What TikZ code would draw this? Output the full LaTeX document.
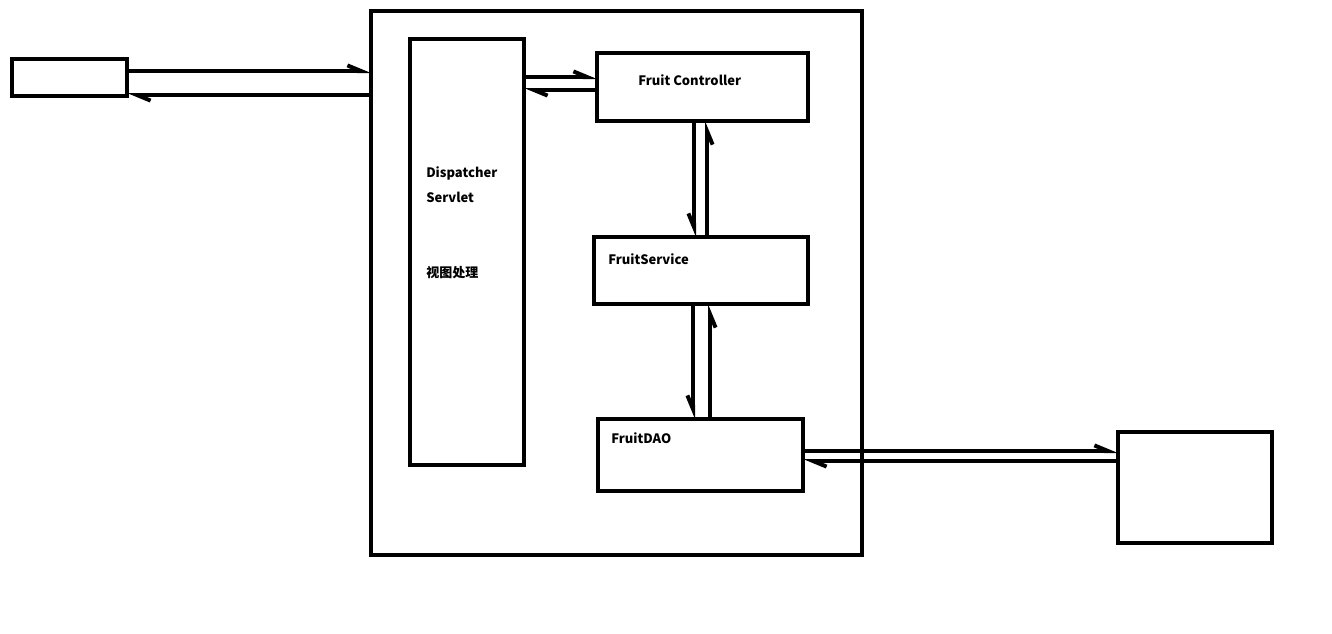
\documentclass[tikz,border=0pt]{standalone}
\usepackage{fontspec}
\setmainfont{Noto Sans CJK SC}
\usetikzlibrary{arrows.meta}
\begin{document}
\begin{tikzpicture}[x=0.75pt,y=-0.75pt,
  box/.style={draw,line width=3pt,rectangle,inner sep=0pt,outer sep=0pt},
  lbl/.style={anchor=west,inner sep=0pt,font=\bfseries\fontsize{9.75}{12}\selectfont},
  arrL/.style={line width=3pt,-{Straight Barb[harpoon,angle=45:11pt]}},
  arrR/.style={line width=3pt,-{Straight Barb[harpoon,swap,angle=45:11pt]}}]
\useasboundingbox (0,0) rectangle (1332,633);
\node[box,minimum width=86.25pt,minimum height=27.75pt] (lb) at (69.5,77.5) {};
\node[box,minimum width=368.25pt,minimum height=408pt] (frame) at (616.5,283) {};
\node[box,minimum width=85.5pt,minimum height=319.5pt] (ds) at (467,252) {};
\node[box,minimum width=158.25pt,minimum height=51pt] (fc) at (702.5,87) {};
\node[box,minimum width=160.5pt,minimum height=50.25pt] (fs) at (701,270.5) {};
\node[box,minimum width=153.75pt,minimum height=54pt] (dao) at (700.5,455) {};
\node[box,minimum width=115.5pt,minimum height=83.25pt] (db) at (1195,487.5) {};
\node[lbl] (t1) at (638,80) {Fruit Controller};
\node[lbl] (t2) at (608,259) {FruitService};
\node[lbl] (t3) at (611,438) {FruitDAO};
\node[lbl] (t4) at (426,173) {Dispatcher};
\node[lbl] (t5) at (426,197) {Servlet};
\node[lbl] (t6) at (426,273) {视图处理};
\draw[arrL] (lb.east |- 0,71) -- (frame.west |- 0,71);
\draw[arrL] (frame.west |- 0,95) -- (lb.east |- 0,95);
\draw[arrL] (ds.east |- 0,77) -- (fc.west |- 0,77);
\draw[arrL] (fc.west |- 0,90) -- (ds.east |- 0,90);
\draw[arrR] (fc.south -| 694,0) -- (fs.north -| 694,0);
\draw[arrR] (fs.north -| 707,0) -- (fc.south -| 707,0);
\draw[arrR] (fs.south -| 693,0) -- (dao.north -| 693,0);
\draw[arrR] (dao.north -| 710,0) -- (fs.south -| 710,0);
\draw[arrL] (dao.east |- 0,451) -- (db.west |- 0,451);
\draw[arrL] (db.west |- 0,461) -- (dao.east |- 0,461);
\end{tikzpicture}
\end{document}
